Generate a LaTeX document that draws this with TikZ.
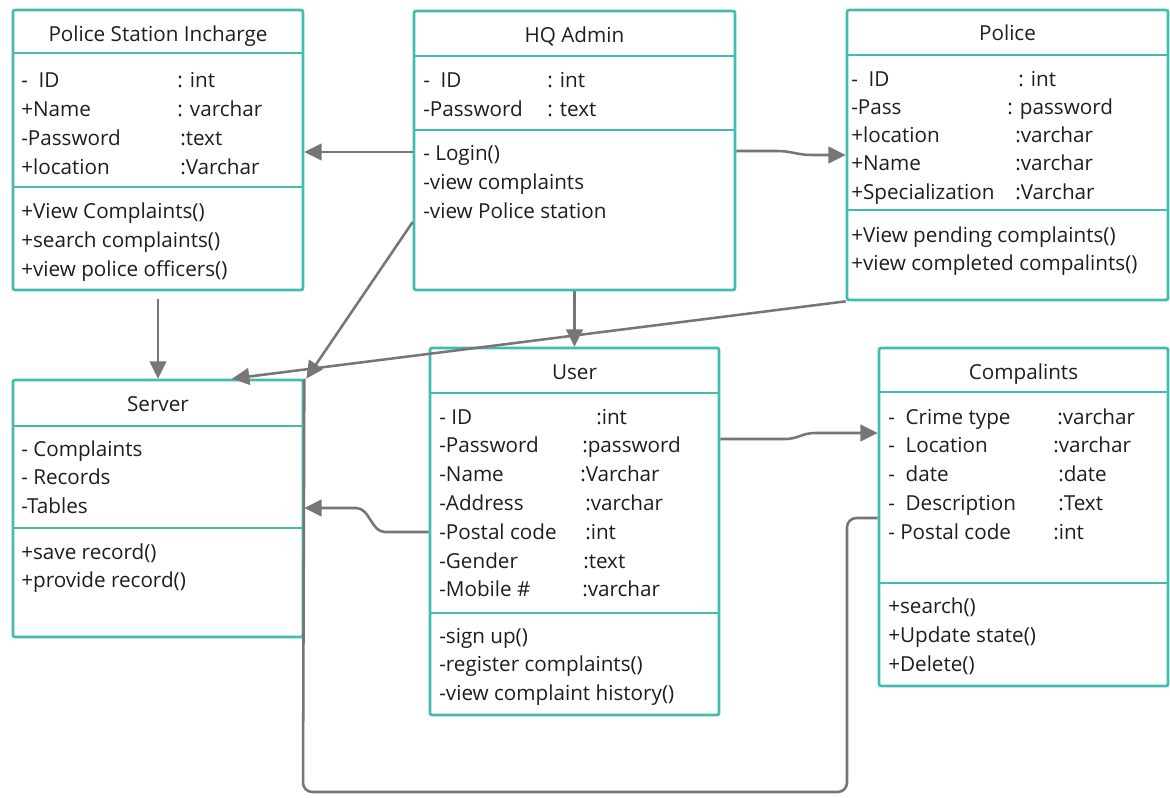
\documentclass[tikz,border=0pt]{standalone}
\usepackage{fontspec}
\setmainfont{Open Sans}
\usetikzlibrary{arrows.meta,fit}
\definecolor{boxline}{RGB}{66,188,174}
\definecolor{wire}{RGB}{118,118,118}
\definecolor{ink}{RGB}{30,30,30}

\begin{document}
\begin{tikzpicture}[x=0.75pt,y=-0.75pt,
  classbox/.style={draw=boxline, line width=2pt, rounded corners=1.5pt, inner sep=0pt, fill=white},
  divider/.style={draw=boxline, line width=2pt},
  classtitle/.style={anchor=base, inner sep=0pt, text=ink, font=\fontsize{15.5}{18}\selectfont},
  txt/.style={anchor=base west, inner sep=0pt, text=ink, font=\fontsize{15.5}{18}\selectfont},
  link/.style={draw=wire, line width=1.9pt, -{Triangle[length=13pt,width=12.5pt]}},
  plainlink/.style={draw=wire, line width=1.9pt, rounded corners=7pt},
]
\useasboundingbox[fill=white] (0,0) rectangle (1170,797);

% ---------- class boxes ----------
\node[classbox, fit={(13,10)(303,290)}] (psi) {};
\node[classbox, fit={(414,11)(735,290)}] (hq) {};
\node[classbox, fit={(847,10)(1168,300)}] (pol) {};
\node[classbox, fit={(13,380)(303,637)}] (srv) {};
\node[classbox, fit={(430,348)(719,715)}] (usr) {};
\node[classbox, fit={(879,348)(1168,686)}] (cmp) {};

% compartment dividers
\draw[divider] (13,53) -- (303,53);   \draw[divider] (13,187) -- (303,187);
\draw[divider] (414,56) -- (735,56);  \draw[divider] (414,130) -- (735,130);
\draw[divider] (847,55) -- (1168,55); \draw[divider] (847,210) -- (1168,210);
\draw[divider] (13,426) -- (303,426); \draw[divider] (13,528) -- (303,528);
\draw[divider] (430,393) -- (719,393); \draw[divider] (430,613) -- (719,613);
\draw[divider] (879,392) -- (1168,392); \draw[divider] (879,583) -- (1168,583);

% ---------- titles ----------
\node[classtitle] (psi-h) at (158,41) {Police Station Incharge};
\node[classtitle] (hq-h) at (574.5,42) {HQ Admin};
\node[classtitle] (pol-h) at (1007.5,40) {Police};
\node[classtitle] (srv-h) at (158,411) {Server};
\node[classtitle] (usr-h) at (574.5,379) {User};
\node[classtitle] (cmp-h) at (1023.5,379) {Compalints};

% ---------- Police Station Incharge ----------
\foreach \l/\r/\c [count=\i] in {{-\ \ ID}/{: int}/177, {+Name}/{: varchar}/177,
    {-Password}/{:text}/180, {+location}/{:Varchar}/180} {
  \node[txt] (psi-a\i) at (21,{87+29*(\i-1)}) {\l};
  \node[txt] (psi-t\i) at (\c,{87+29*(\i-1)}) {\r};
}
\foreach \m [count=\i] in {{+View Complaints()}, {+search complaints()}, {+view police officers()}} {
  \node[txt] (psi-m\i) at (21,{218+29*(\i-1)}) {\m};
}

% ---------- HQ Admin ----------
\foreach \l/\r [count=\i] in {{-\ \ ID}/{: int}, {-Password}/{: text}} {
  \node[txt] (hq-a\i) at (423,{87+29*(\i-1)}) {\l};
  \node[txt] (hq-t\i) at (547,{87+29*(\i-1)}) {\r};
}
\foreach \m [count=\i] in {{- Login()}, {-view complaints}, {-view Police station}} {
  \node[txt] (hq-m\i) at (423,{160+29*(\i-1)}) {\m};
}

% ---------- Police ----------
\foreach \l/\r/\c [count=\i] in {{-\ \ ID}/{: int}/1018, {-Pass}/{: password}/1007,
    {+location}/{:varchar}/1015, {+Name}/{:varchar}/1015, {+Specialization}/{:Varchar}/1015} {
  \node[txt] (pol-a\i) at (851,{86+28.3*(\i-1)}) {\l};
  \node[txt] (pol-t\i) at (\c,{86+28.3*(\i-1)}) {\r};
}
\foreach \m [count=\i] in {{+View pending complaints()}, {+view completed compalints()}} {
  \node[txt] (pol-m\i) at (851,{242+28*(\i-1)}) {\m};
}

% ---------- Server ----------
\foreach \l [count=\i] in {{- Complaints}, {- Records}, {-Tables}} {
  \node[txt] (srv-a\i) at (21,{456+28.5*(\i-1)}) {\l};
}
\foreach \m [count=\i] in {{+save record()}, {+provide record()}} {
  \node[txt] (srv-m\i) at (21,{559+28*(\i-1)}) {\m};
}

% ---------- User ----------
\foreach \l/\r/\c [count=\i] in {{- ID}/{:int}/596, {-Password}/{:password}/582,
    {-Name}/{:Varchar}/580, {-Address}/{:varchar}/585, {-Postal code}/{:int}/585,
    {-Gender}/{:text}/583, {-Mobile \#}/{:varchar}/582} {
  \node[txt] (usr-a\i) at (439,{424+28.8*(\i-1)}) {\l};
  \node[txt] (usr-t\i) at (\c,{424+28.8*(\i-1)}) {\r};
}
\foreach \m [count=\i] in {{-sign up()}, {-register complaints()}, {-view complaint history()}} {
  \node[txt] (usr-m\i) at (439,{643+28.5*(\i-1)}) {\m};
}

% ---------- Compalints ----------
\foreach \l/\r/\c [count=\i] in {{-\ \ Crime type}/{:varchar}/1057, {-\ \ Location}/{:varchar}/1053,
    {-\ \ date}/{:date}/1058, {-\ \ Description}/{:Text}/1058, {- Postal code}/{:int}/1053} {
  \node[txt] (cmp-a\i) at (888,{424+28.8*(\i-1)}) {\l};
  \node[txt] (cmp-t\i) at (\c,{424+28.8*(\i-1)}) {\r};
}
\foreach \m [count=\i] in {{+search()}, {+Update state()}, {+Delete()}} {
  \node[txt] (cmp-m\i) at (888,{613+29*(\i-1)}) {\m};
}

% ---------- connectors ----------
\draw[link] (hq.west |- 0,152) -- (psi.east |- 0,152);
\draw[link] (hq.east |- 0,151) -- (777,151) .. controls (792,151) and (797,155) .. (812,155) -- (pol.west |- 0,155);
\draw[link] (hq.south) -- (usr.north);
\draw[link, shorten <=6pt] (psi.south) -- (srv.north);
\draw[link] (hq.west |- 0,222) -- ([xshift=1.5pt]srv.north east);
\draw[link] (pol.south west) -- (srv.north -| 232,0);
\draw[link] (usr.west |- 0,532) -- (385,532) .. controls (371,532) and (370,508) .. (356,508) -- (srv.east |- 0,508);
\draw[link] (usr.east |- 0,439) -- (785,439) .. controls (798,439) and (802,433) .. (815,433) -- (cmp.west |- 0,433);
\draw[plainlink] (cmp.west |- 0,518) -- (847,518) -- (847,792) -- (303,792) -- (srv.north east);
\end{tikzpicture}
\end{document}
